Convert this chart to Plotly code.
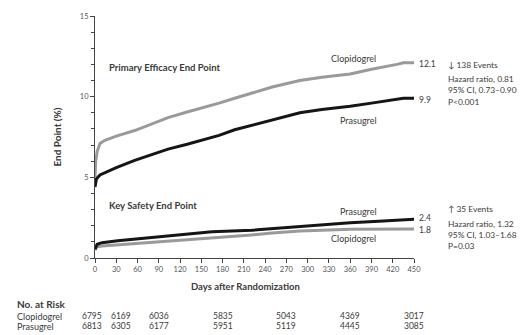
import plotly.graph_objects as go

# ---- data ----
eff_days_clop = [0, 1, 3, 7, 14, 30, 56, 80, 103, 130, 151, 175, 197, 219, 250, 289, 320, 360, 390, 426, 435, 450]
eff_clop = [5.0, 6.0, 6.6, 7.1, 7.3, 7.55, 7.9, 8.3, 8.7, 9.05, 9.3, 9.6, 9.9, 10.2, 10.6, 11.0, 11.2, 11.4, 11.7, 12.0, 12.1, 12.1]
eff_days_pras = [0, 2, 7, 14, 30, 56, 80, 103, 130, 151, 175, 197, 219, 250, 289, 320, 360, 390, 416, 435, 450]
eff_pras = [4.4, 4.9, 5.15, 5.3, 5.6, 6.05, 6.4, 6.75, 7.05, 7.3, 7.6, 7.95, 8.2, 8.55, 9.0, 9.2, 9.4, 9.6, 9.8, 9.9, 9.9]

saf_days_pras = [0, 3, 10, 32, 80, 127, 165, 221, 250, 289, 320, 360, 400, 444, 450]
saf_pras = [0.55, 0.85, 0.95, 1.07, 1.27, 1.47, 1.63, 1.72, 1.82, 1.98, 2.05, 2.18, 2.28, 2.39, 2.4]
saf_days_clop = [0, 3, 10, 32, 80, 127, 174, 221, 250, 289, 320, 360, 450]
saf_clop = [0.5, 0.7, 0.75, 0.82, 0.96, 1.1, 1.27, 1.43, 1.55, 1.68, 1.72, 1.78, 1.8]

x_ticks = list(range(0, 451, 30))
risk_days = [0, 30, 90, 180, 270, 360, 450]
risk_clop = ["6795", "6169", "6036", "5835", "5043", "4369", "3017"]
risk_pras = ["6813", "6305", "6177", "5951", "5119", "4445", "3085"]
risk_shift = [-3, 5, 0, 0, 0, 0, 0]

FONT = "Lato"
GRAY = "#9a9a9a"
BLACK = "#151515"
TXT = "#3a3a3a"

# the page body adds an 8px offset; work in reference pixels and subtract it
OFF = 8
W, H = 527 - OFF, 335 - OFF
L, R, T, B = 95 - OFF, 414 - OFF, 12 - OFF, 258 - OFF
def px(x):
    return (x - OFF - L) / (R - L)
def py(y):
    return (B - (y - OFF)) / (B - T)

fig = go.Figure()
fig.add_trace(go.Scatter(x=eff_days_clop, y=eff_clop, mode="lines", line=dict(color=GRAY, width=3), hoverinfo="skip"))
fig.add_trace(go.Scatter(x=eff_days_pras, y=eff_pras, mode="lines", line=dict(color=BLACK, width=3), hoverinfo="skip"))
fig.add_trace(go.Scatter(x=saf_days_clop, y=saf_clop, mode="lines", line=dict(color=GRAY, width=3), hoverinfo="skip"))
fig.add_trace(go.Scatter(x=saf_days_pras, y=saf_pras, mode="lines", line=dict(color=BLACK, width=3), hoverinfo="skip"))

ann = []
def A(text, x, y, size=8.5, xanchor="left", xref="x", yref="y", color=TXT, xshift=0, yanchor="middle"):
    ann.append(dict(text=text, x=x, y=y, xref=xref, yref=yref, showarrow=False,
                    xanchor=xanchor, yanchor=yanchor, xshift=xshift,
                    font=dict(family=FONT, size=size, color=color)))

# panel titles
A("<b>Primary Efficacy End Point</b>", 17, 11.8, size=9.5)
A("<b>Key Safety End Point</b>", 17, 3.25, size=9.5)

# curve labels
A("Clopidogrel", 365, 12.35, size=9, xanchor="center")
A("Prasugrel", 372, 8.5, size=9, xanchor="center")
A("Prasugrel", 372, 2.9, size=9, xanchor="center")
A("Clopidogrel", 365, 1.2, size=9, xanchor="center")

# end values (outside the x range -> paper x)
A(f"{eff_clop[-1]:.1f}", px(417), eff_clop[-1] - 0.1, xref="paper")
A(f"{eff_pras[-1]:.1f}", px(417), eff_pras[-1] - 0.1, xref="paper")
A(f"{saf_pras[-1]:.1f}", px(417), saf_pras[-1] + 0.05, xref="paper")
A(f"{saf_clop[-1]:.1f}", px(417), saf_clop[-1] - 0.08, xref="paper")

# statistics blocks
for t, yy in [("↓ 138 Events", 61.5), ("Hazard ratio, 0.81", 76), ("95% CI, 0.73–0.90", 87.5), ("P<0.001", 99.3)]:
    A(t, px(446), py(yy), size=8.4, xref="paper", yref="paper")
for t, yy in [("↑ 35 Events", 207.7), ("Hazard ratio, 1.32", 223.3), ("95% CI, 1.03–1.68", 235), ("P=0.03", 245.7)]:
    A(t, px(446), py(yy), size=8.4, xref="paper", yref="paper")

# x title
A("<b>Days after Randomization</b>", px(245), py(287), size=9.5, xanchor="center", xref="paper", yref="paper")

# number at risk
A("<b>No. at Risk</b>", px(15), py(305), size=10, xref="paper", yref="paper")
A("Clopidogrel", px(15), py(317), size=9, xref="paper", yref="paper")
A("Prasugrel", px(15), py(327.5), size=9, xref="paper", yref="paper")
for d, c, p, s in zip(risk_days, risk_clop, risk_pras, risk_shift):
    ann.append(dict(text=c, x=d, y=py(317), xref="x", yref="paper", showarrow=False, xanchor="center",
                    yanchor="middle", xshift=s, font=dict(family=FONT, size=8.5, color=TXT)))
    ann.append(dict(text=p, x=d, y=py(327.5), xref="x", yref="paper", showarrow=False, xanchor="center",
                    yanchor="middle", xshift=s, font=dict(family=FONT, size=8.5, color=TXT)))

fig.update_layout(
    width=W, height=H,
    margin=dict(l=L, r=W - R, t=T, b=H - B),
    paper_bgcolor="white", plot_bgcolor="white",
    showlegend=False,
    annotations=ann,
    font=dict(family=FONT, color=TXT),
    xaxis=dict(range=[0, 450], tickvals=x_ticks, ticks="outside", ticklen=4, tickcolor="#444",
               showline=True, linecolor="#444", linewidth=1, showgrid=False, zeroline=False,
               ticklabeloverflow="allow",
               tickfont=dict(family=FONT, size=7.5, color="#555")),
    yaxis=dict(range=[0, 15], dtick=5, ticks="outside", ticklen=4, tickcolor="#444",
               minor=dict(dtick=1, ticks="outside", ticklen=3, tickcolor="#444"),
               showline=True, linecolor="#444", linewidth=1, showgrid=False, zeroline=False,
               ticklabeloverflow="allow",
               tickfont=dict(family=FONT, size=7.5, color="#555"),
               title=dict(text="<b>End Point (%)</b>", font=dict(family=FONT, size=10, color=TXT), standoff=16)),
)

fig.write_html("out.html")
